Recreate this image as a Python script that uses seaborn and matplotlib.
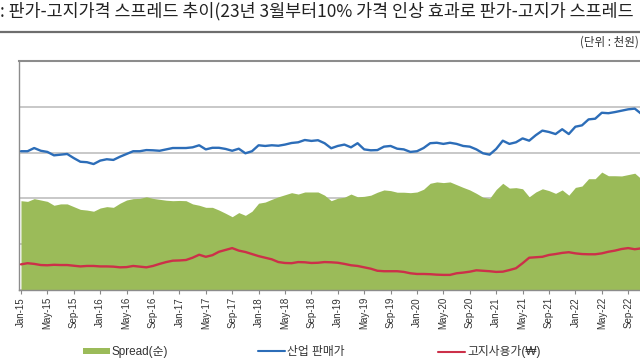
import numpy as np
import pandas as pd
import matplotlib
matplotlib.use("Agg")
import matplotlib.pyplot as plt
import seaborn as sns
from matplotlib.patches import Patch
from matplotlib.lines import Line2D

# 산업 판매가 (monthly, Jan-15 ...)
sales_price = [606, 606, 620, 608, 603, 588, 591, 594, 576, 560,
               558, 550, 565, 571, 568, 582, 594, 606, 606, 611,
               610, 608, 614, 620, 620, 620, 623, 632, 614, 621,
               621, 616, 608, 617, 597, 606, 632, 629, 632, 630,
               635, 642, 645, 655, 651, 654, 641, 619, 629, 635,
               623, 641, 614, 610, 611, 626, 629, 617, 614, 603,
               606, 620, 641, 643, 638, 643, 638, 629, 626, 614,
               597, 591, 616, 652, 638, 645, 662, 652, 676, 696,
               690, 681, 702, 681, 713, 719, 745, 748, 774, 772,
               777, 783, 789, 792, 769]

# Spread(순)
spread = [390, 387, 399, 393, 387, 370, 376, 376, 364, 352,
          349, 344, 358, 364, 361, 379, 393, 399, 400, 407,
          400, 396, 392, 390, 391, 390, 376, 370, 361, 361,
          349, 335, 320, 338, 326, 344, 379, 384, 396, 407,
          416, 425, 419, 428, 428, 428, 414, 390, 401, 405,
          419, 407, 409, 414, 427, 437, 434, 427, 427, 425,
          428, 440, 466, 472, 469, 472, 460, 448, 437, 422,
          405, 400, 439, 466, 445, 447, 442, 407, 428, 442,
          434, 422, 437, 414, 448, 454, 486, 486, 515, 499,
          499, 498, 504, 510, 485]

# 고지사용가
waste_price = [112, 117, 114, 109, 108, 110, 109, 109, 106, 103,
               105, 105, 103, 103, 102, 99, 100, 105, 102, 99,
               105, 114, 122, 128, 129, 131, 141, 154, 145, 152,
               167, 175, 183, 172, 166, 157, 148, 141, 134, 122,
               118, 117, 122, 121, 118, 119, 122, 121, 119, 114,
               108, 105, 99, 93, 84, 82, 82, 82, 79, 73,
               70, 70, 69, 67, 66, 66, 73, 76, 80, 86,
               84, 82, 79, 80, 87, 95, 117, 141, 143, 145,
               153, 157, 162, 165, 160, 157, 156, 156, 160, 167,
               172, 179, 183, 178, 182]

tick_labels = ["Jan-15", "May-15", "Sep-15", "Jan-16", "May-16", "Sep-16",
               "Jan-17", "May-17", "Sep-17", "Jan-18", "May-18", "Sep-18",
               "Jan-19", "May-19", "Sep-19", "Jan-20", "May-20", "Sep-20",
               "Jan-21", "May-21", "Sep-21", "Jan-22", "May-22", "Sep-22"]

title_text = ": 판가-고지가격 스프레드 추이(23년 3월부터10% 가격 인상 효과로 판가-고지가 스프레드"
unit_text = "(단위 : 천원)"
legend_labels = ["Spread(순)", "산업 판매가", "고지사용가(₩)"]

GREEN = "#9BBB59"
BLUE = "#2C6DB8"
RED = "#CC3049"

sns.set_theme(style="white")
plt.rcParams["font.family"] = ["Liberation Sans", "Noto Sans CJK KR", "DejaVu Sans"]

months = np.arange(len(sales_price))
df = pd.DataFrame({"m": months, "sales": sales_price,
                   "spread": spread, "waste": waste_price})

W, H = 640, 360
fig = plt.figure(figsize=(6.4, 3.6), dpi=100)
ax = fig.add_axes([19 / W, 70 / H, 621 / W, 229 / H])

ax.fill_between(df["m"], 0, df["spread"], color=GREEN, lw=0, zorder=2)
sns.lineplot(data=df, x="m", y="sales", ax=ax, color=BLUE, lw=1.7, zorder=3)
sns.lineplot(data=df, x="m", y="waste", ax=ax, color=RED, lw=1.7, zorder=3)

ax.set_xlim(-0.3, -0.3 + 621 / 6.6)
ax.set_ylim(0, 1000)
ax.set_yticks(range(0, 1001, 200))
ax.yaxis.grid(True, color="#BFBFBF", lw=1.2)
ax.set_axisbelow(True)
ax.tick_params(axis="y", left=False, labelleft=False)
ax.set_xticks(range(0, 4 * len(tick_labels), 4))
ax.set_xticklabels(tick_labels, rotation=90, fontsize=7, color="#333333")
ax.tick_params(axis="x", bottom=True, length=3, width=0.8, color="#888888", pad=2)
ax.set_xlabel("")
ax.set_ylabel("")
ax.spines["right"].set_visible(False)
ax.spines["top"].set_color("#8C8C8C")
ax.spines["top"].set_linewidth(1.5)
for s in ["left", "bottom"]:
    ax.spines[s].set_color("#8C8C8C")
    ax.spines[s].set_linewidth(1.0)

# title & separator
fig.text(0, 1 - 11 / H, title_text, ha="left", va="center", fontsize=12.5,
         family=["Noto Sans CJK KR", "DejaVu Sans"], color="#222222")
fig.add_artist(Line2D([0, 1], [1 - 32 / H] * 2, color="#6E6E6E", lw=1.6))
fig.text(639 / W, 1 - 42 / H, unit_text, ha="right", va="center", fontsize=8.3,
         family=["Noto Sans CJK KR", "DejaVu Sans"], color="#333333")

# legend items
handles = [Patch(facecolor=GREEN, edgecolor="none", label=legend_labels[0]),
           Line2D([], [], color=BLUE, lw=1.5, label=legend_labels[1]),
           Line2D([], [], color=RED, lw=1.5, label=legend_labels[2])]
xs = [83, 258, 438]
for h, x in zip(handles, xs):
    fig.legend(handles=[h], loc="center left", bbox_to_anchor=(x / W, 1 - 352 / H),
               frameon=False, fontsize=8.5, handlelength=2.3, handleheight=0.4,
               handletextpad=0.15, borderpad=0, borderaxespad=0,
               labelcolor="#333333")

fig.savefig("out.png", dpi=100)
